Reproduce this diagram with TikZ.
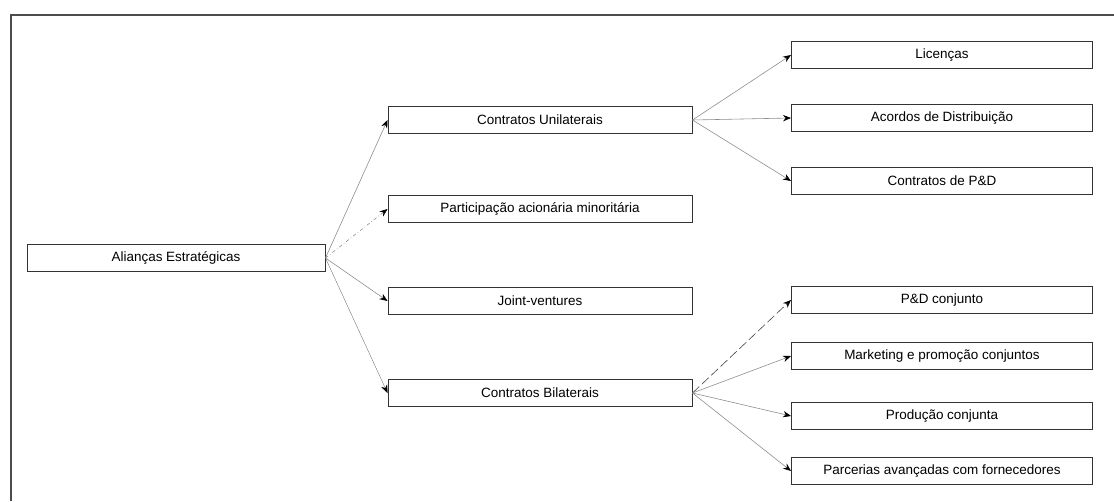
\documentclass[tikz,border=0pt]{standalone}
\usepackage{fontspec}
\setmainfont{Liberation Sans}
\usepackage{tikz}
\usetikzlibrary{positioning, arrows.meta}

\begin{document}
\begin{tikzpicture}[
  x=0.03cm, y=-0.03cm,
  box/.style={rectangle, draw=black!80, line width=0.8pt, fill=white, font=\fontsize{11.5}{13}\selectfont, minimum height=0.8cm, inner sep=0pt, align=center},
  midbox/.style={box, minimum width=9.12cm},
  leafbox/.style={box, minimum width=9.03cm},
  link/.style={draw=black!45, line width=0.5pt, -{Stealth[length=2.4mm, width=1.9mm, black]}},
]
  \useasboundingbox (0,0) rectangle (1114,501);
  % frame
  \draw[black!70, line width=1.4pt] (11,501) -- (11,15) -- (1114,15);

  % nodes
  \node[box, minimum width=8.94cm] (alianca) at (176,258) {Alianças Estratégicas};

  \node[midbox] (unilat) at (540,120) {Contratos Unilaterais};
  \node[midbox] (partic) at (540,209) {Participação acionária minoritária};
  \node[midbox] (joint)  at (540,301) {Joint-ventures};
  \node[midbox] (bilat)  at (540,393) {Contratos Bilaterais};

  \node[leafbox] (licenca)  at (942,55)  {Licenças};
  \node[leafbox] (acordo)   at (942,118) {Acordos de Distribuição};
  \node[leafbox] (contpd)   at (942,181) {Contratos de P\&D};

  \node[leafbox] (pdconj)   at (942,300) {P\&D conjunto};
  \node[leafbox] (market)   at (942,356) {Marketing e promoção conjuntos};
  \node[leafbox] (producao) at (942,416) {Produção conjunta};
  \node[leafbox] (parceria) at (942,471) {Parcerias avançadas com fornecedores};

  % connectors
  \draw[link] (alianca.east) -- (unilat.west);
  \draw[link, dash dot] (alianca.east) -- (partic.west);
  \draw[link] (alianca.east) -- (joint.west);
  \draw[link, draw=black!75, very thin] (alianca.east) -- (bilat.west);

  \foreach \leaf in {licenca, acordo, contpd}
    \draw[link] (unilat.east) -- (\leaf.west);

  \draw[link, draw=black!75, dash pattern=on 8pt off 3pt] (bilat.east) -- (pdconj.west);
  \foreach \leaf in {market, producao, parceria}
    \draw[link] (bilat.east) -- (\leaf.west);
\end{tikzpicture}
\end{document}
